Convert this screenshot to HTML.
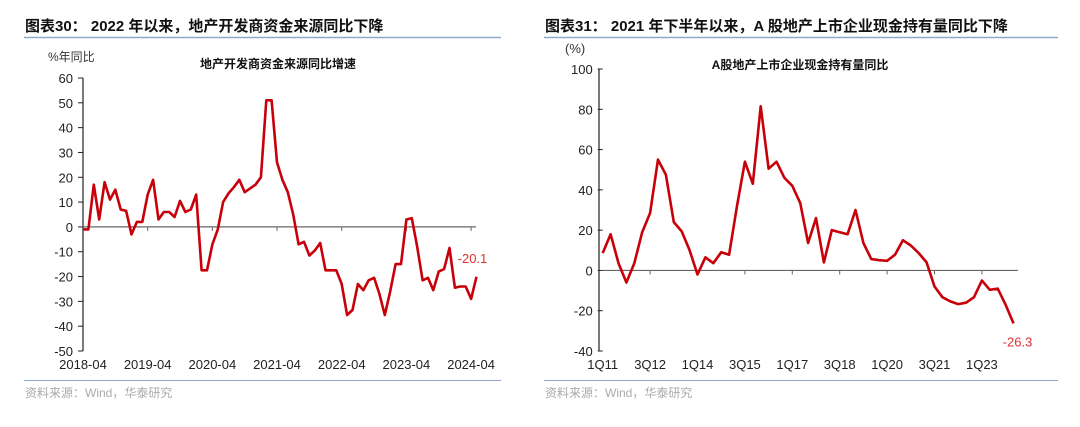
<!DOCTYPE html>
<html><head><meta charset="utf-8"><style>
body{margin:0;background:#fff;}
svg{display:block;font-family:"Liberation Sans","Noto Sans CJK SC",sans-serif;}
</style></head><body>
<svg width="1080" height="427" viewBox="0 0 1080 427">
<text x="25" y="31" font-size="15" font-weight="bold" fill="#111">图表30： 2022 年以来，地产开发商资金来源同比下降</text>
<line x1="24" y1="37.5" x2="501" y2="37.5" stroke="#8fa9cc" stroke-width="1.5"/>
<line x1="24" y1="380.5" x2="501" y2="380.5" stroke="#8fa9cc" stroke-width="1"/>
<text x="25" y="397" font-size="12" fill="#aaa">资料来源：Wind，华泰研究</text>
<text x="545" y="31" font-size="15" font-weight="bold" fill="#111">图表31： 2021 年下半年以来，A 股地产上市企业现金持有量同比下降</text>
<line x1="544" y1="37.5" x2="1058" y2="37.5" stroke="#8fa9cc" stroke-width="1.5"/>
<line x1="544" y1="380.5" x2="1058" y2="380.5" stroke="#8fa9cc" stroke-width="1"/>
<text x="545" y="397" font-size="12" fill="#aaa">资料来源：Wind，华泰研究</text>
<text x="48" y="61" font-size="12" fill="#333">%年同比</text>
<text x="278" y="68" font-size="12" font-weight="bold" fill="#111" text-anchor="middle">地产开发商资金来源同比增速</text>
<text x="565" y="53" font-size="13" fill="#333">(%)</text>
<text x="800" y="69" font-size="12" font-weight="bold" fill="#111" text-anchor="middle">A股地产上市企业现金持有量同比</text>
<g id="left"></g>
<g id="right"></g>
</svg>
<script>
const leftValues=[-1,-1,17,3,18,11,15,7,6.5,-3,2,2,13,19,3,6,6,4,10.5,6,7,13,-17.5,-17.5,-7,-1,10,13.5,16,19,14,15.5,17,20,51,51,26,19,14,5,-7,-6,-11.5,-9.5,-6.5,-17.5,-17.5,-17.5,-23,-35.5,-33.5,-23,-25.5,-21.5,-20.5,-27,-35.5,-26,-15,-15,3,3.5,-8,-21.5,-20.5,-25.5,-18,-17,-8.5,-24.5,-24,-24,-29,-20.1];
const leftXLabels=["2018-04","2019-04","2020-04","2021-04","2022-04","2023-04","2024-04"];
const leftYTicks=[60,50,40,30,20,10,0,-10,-20,-30,-40,-50];
const leftLastLabel="-20.1";
const rightValues=[8.6,18,3.6,-6,3.6,19,28.5,55,47.5,24,19.4,10,-2,6.5,3.6,9,7.8,32,54,43,81.5,50.5,54,46,42,33.5,13.6,26,4,20,19,18,30,13.6,5.6,5.1,4.8,7.8,15,12.4,8.6,4,-8,-13.3,-15.4,-16.7,-16,-13.3,-5,-9.6,-9,-17,-26.3];
const rightXLabels=["1Q11","3Q12","1Q14","3Q15","1Q17","3Q18","1Q20","3Q21","1Q23"];
const rightYTicks=[100,80,60,40,20,0,-20,-40];
const rightLastLabel="-26.3";
const NS="http://www.w3.org/2000/svg";
function mk(p,tag,a){const e=document.createElementNS(NS,tag);for(const k in a)e.setAttribute(k,a[k]);p.appendChild(e);return e;}
function chart(g,o){
  const {vals,xl,yt,x0,x1,y0,y1,vmin,vmax,stepX,labelEvery,last,lastDx,lastDy,axisRight}=o;
  const yS=v=>y1+(vmax-v)/(vmax-vmin)*(y0-y1);
  const xS=i=>x0+i*stepX;
  let a=mk(g,'line',{x1:x0,y1:y1,x2:x0,y2:y0,stroke:'#222','stroke-width':1.2});
  
  
  yt.forEach(v=>{
    const y=yS(v);
    let t=mk(g,'line',{x1:x0,y1:y,x2:x0-5,y2:y,stroke:'#222'});
    
    
    let l=mk(g,'text',{x:x0-10,y:y+5,'font-size':13,fill:'#222','text-anchor':'end'});
    l.textContent=v;
    
    
  });
  const zy=yS(0);
  let z=mk(g,'line',{x1:x0,y1:zy,x2:axisRight,y2:zy,stroke:'#666','stroke-width':1.2});
  
  
  xl.forEach((s,k)=>{
    const x=xS(k*labelEvery);
    if(k>0){let t=mk(g,'line',{x1:x,y1:zy,x2:x,y2:zy+4,stroke:'#666'});
    
    }
    let l=mk(g,'text',{x:x,y:y0+18,'font-size':13,fill:'#222','text-anchor':'middle'});
    l.textContent=s;
    
    
  });
  const pts=vals.map((v,i)=>xS(i).toFixed(1)+','+yS(v).toFixed(1)).join(' ');
  let p=mk(g,'polyline',{points:pts,fill:'none',stroke:'#c8000a','stroke-width':2.6,'stroke-linejoin':'round'});
  
  
  const li=vals.length-1;
  let lt=mk(g,'text',{x:xS(li)+lastDx,y:yS(vals[li])+lastDy,'font-size':13,fill:'#e03030','text-anchor':'middle'});
  lt.textContent=last;
  
  
}
chart(document.getElementById('left'),{vals:leftValues,xl:leftXLabels,yt:leftYTicks,x0:83,x1:474,y0:351,y1:78,vmin:-50,vmax:60,stepX:5.39,labelEvery:12,last:leftLastLabel,lastDx:-4,lastDy:-14,axisRight:476});
chart(document.getElementById('right'),{vals:rightValues,xl:rightXLabels,yt:rightYTicks,x0:602.7,x1:1014,y0:351,y1:69,vmin:-40,vmax:100,stepX:7.9,labelEvery:6,last:rightLastLabel,lastDx:4,lastDy:23,axisRight:1018});
document.querySelector('#right line').setAttribute('x1',599);
document.querySelector('#right line').setAttribute('x2',599);
</script>
</body></html>
